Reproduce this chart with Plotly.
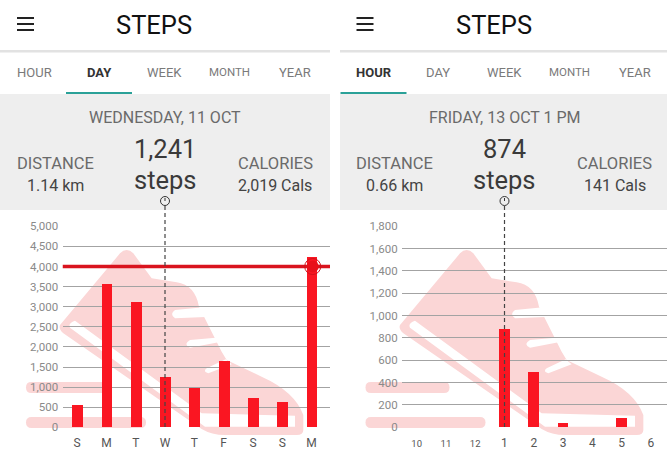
import plotly.graph_objects as go

# ---- data ----
day_labels = ["S", "M", "T", "W", "T", "F", "S", "S", "M"]
day_steps = [540, 3560, 3110, 1241, 970, 1640, 710, 630, 4240]
day_ticks = [0, 500, 1000, 1500, 2000, 2500, 3000, 3500, 4000, 4500, 5000]
day_goal = 4000
day_selected = 3

hour_labels = ['<span style="font-size:9.5px">10</span>', '<span style="font-size:9.5px">11</span>',
               '<span style="font-size:9.5px">12</span>', "1", "2", "3", "4", "5", "6"]
hour_steps = [0, 0, 0, 874, 490, 35, 0, 85, 0]
hour_ticks = [0, 200, 400, 600, 800, 1000, 1200, 1400, 1600, 1800]
hour_selected = 3

W, H = 667, 450
OFF = 339.5
FONT = "Roboto"
RED = "#fa1622"
PINK = "#fbd6d6"
GRID = "#a3a3a3"


def fx(x):
    return x / W


def fy(y):
    return 1 - y / H


def path(cmds):
    """cmds: list of (letter, x, y, ...) in pixels."""
    out = []
    for c in cmds:
        if c[0] == "Z":
            out.append("Z")
            continue
        nums = c[1:]
        pts = []
        for i in range(0, len(nums), 2):
            pts.append(f"{fx(nums[i]):.5f},{fy(nums[i + 1]):.5f}")
        out.append(c[0] + " ".join(pts))
    return " ".join(out)


def shapeline(x0, y0, x1, y1, color, width, layer="below", dash=None):
    return dict(type="line", xref="paper", yref="paper", x0=fx(x0), y0=fy(y0), x1=fx(x1), y1=fy(y1),
                line=dict(color=color, width=width, dash=dash or "solid"), layer=layer)


def rect(x0, y0, x1, y1, color):
    return dict(type="rect", xref="paper", yref="paper", x0=fx(x0), y0=fy(y0), x1=fx(x1), y1=fy(y1),
                fillcolor=color, line=dict(width=0), layer="below")


def zoom_path(cmds, dx):
    out = []
    for c in cmds:
        if c[0] == "Z":
            out.append(c)
            continue
        nums = list(c[1:])
        conv = []
        for i in range(0, len(nums), 2):
            conv += [nums[i] / 3 + 335 + dx, 205 + nums[i + 1] / 3]
        out.append((c[0], *conv))
    return path(out)


SILHOUETTE = [("M", 195, 360), ("L", 375, 145), ("Q", 395, 125, 415, 145), ("L", 470, 220), ("L", 545, 232),
              ("Q", 600, 240, 612, 305), ("L", 680, 440), ("L", 695, 465), ("L", 800, 515),
              ("Q", 900, 560, 925, 630), ("L", 925, 675), ("Q", 925, 692, 900, 690), ("L", 690, 690),
              ("Q", 650, 690, 620, 672), ("L", 205, 385), ("Q", 190, 372, 195, 360), ("Z",)]
STRIPE = [("M", 225, 368), ("Q", 218, 355, 240, 347), ("L", 620, 625), ("L", 900, 632), ("L", 900, 665),
          ("L", 630, 665), ("Z",)]
NOTCHES = [
    [("M", 650, 335), ("L", 540, 340), ("Q", 522, 328, 540, 315), ("L", 640, 305), ("Z",)],
    [("M", 662, 398), ("L", 585, 405), ("Q", 563, 418, 585, 428), ("L", 690, 408), ("Z",)],
    [("M", 692, 463), ("L", 635, 490), ("Q", 622, 500, 640, 505), ("L", 710, 478), ("Z",)],
]


def pill(x0, y0, x1, y1, color):
    r = (y1 - y0) / 2
    return dict(type="path", xref="paper", yref="paper", layer="below", fillcolor=color, line=dict(width=0),
                path=path([("M", x0 + r, y0), ("L", x1 - r, y0), ("Q", x1, y0, x1, y0 + r), ("Q", x1, y1, x1 - r, y1),
                           ("L", x0 + r, y1), ("Q", x0, y1, x0, y0 + r), ("Q", x0, y0, x0 + r, y0), ("Z",)]))


shapes = []
annotations = []


def text(x, y, s, size, color):
    annotations.append(dict(x=fx(x), y=fy(y), xref="paper", yref="paper", text=s, showarrow=False,
                            xanchor="center", yanchor="middle", font=dict(family=FONT, size=size, color=color)))


def panel(dx, x0, x1, active, date, dist, steps, cals, selected_px, bar1_end, bar2_end, shoe_dx):
    # header
    for y in (18, 24, 30):
        shapes.append(shapeline(17 + dx, y, 34 + dx, y, "#222222", 2))
    text(154 + dx, 25, "STEPS", 25.5, "#111111")
    shapes.append(rect(x0, 50, x1, 52.5, "#e2e2e2"))
    # tabs
    tabs = [("HOUR", 34, 13), ("DAY", 99, 13), ("WEEK", 164.5, 13), ("MONTH", 229.5, 11.5), ("YEAR", 295, 13)]
    for name, cx, size in tabs:
        if name == active:
            text(cx + dx, 72, f"<b>{name}</b>", size, "#333333")
            shapes.append(rect(cx + dx - 33, 92, cx + dx + 33, 94, "#2aa198"))
        else:
            text(cx + dx, 72, name, size, "#7a7a7a")
    # grey panel
    shapes.append(rect(x0, 94, x1, 210, "#eeeeee"))
    text(165 + dx, 117, date, 16, "#6a6a6a")
    text(55 + dx, 163, "DISTANCE", 16.5, "#6a6a6a")
    text(55 + dx, 185, dist, 16, "#444444")
    text(165 + dx, 149, steps, 25.5, "#3a3a3a")
    text(165 + dx, 180, "steps", 25.5, "#3a3a3a")
    text(275 + dx, 163, "CALORIES", 16.5, "#6a6a6a")
    text(275 + dx, 185, cals, 16, "#444444")
    # shoe watermark
    shapes.append(dict(type="path", xref="paper", yref="paper", layer="below", fillcolor=PINK, line=dict(width=0),
                       path=zoom_path(SILHOUETTE, shoe_dx)))
    for pts in [STRIPE] + NOTCHES:
        shapes.append(dict(type="path", xref="paper", yref="paper", layer="below", fillcolor="#ffffff",
                           line=dict(width=0), path=zoom_path(pts, shoe_dx)))
    shapes.append(pill(26 + dx, 382, bar1_end + dx, 393, PINK))
    shapes.append(pill(26 + dx, 417, bar2_end + dx, 428, PINK))
    # clock
    shapes.append(dict(type="circle", xref="paper", yref="paper", x0=fx(selected_px - 4.5), x1=fx(selected_px + 4.5),
                       y0=fy(196.5), y1=fy(205.5), line=dict(color="#333333", width=1), layer="above"))
    shapes.append(shapeline(selected_px, 198, selected_px, 201, "#333333", 1, "above"))
    shapes.append(shapeline(selected_px, 206, selected_px, 427, "#444444", 1.2, "above", "4px,3px"))


panel(0, 0, 330, "DAY", "WEDNESDAY, 11 OCT", "1.14 km", "1,241", "2,019 Cals", 165, 110, 146, -340)
panel(OFF, 340, 667, "HOUR", "FRIDAY, 13 OCT 1 PM", "0.66 km", "874", "141 Cals", 504.5, 110, 146, 0)

# goal line
fig = go.Figure()
fig.add_trace(go.Bar(x=list(range(len(day_steps))), y=day_steps, width=0.37, marker=dict(color=RED, line=dict(width=0)),
                     xaxis="x", yaxis="y", showlegend=False))
fig.add_trace(go.Scatter(x=[-0.5, 8.63], y=[day_goal, day_goal], mode="lines", line=dict(color="#d9141e", width=3.5),
                         xaxis="x", yaxis="y", showlegend=False, cliponaxis=False))
fig.add_trace(go.Scatter(x=[8.04], y=[day_goal], mode="markers", marker=dict(color="#e8101a", size=12),
                         xaxis="x", yaxis="y", showlegend=False, cliponaxis=False))
fig.add_trace(go.Scatter(x=[8.04], y=[day_goal], mode="markers",
                         marker=dict(color="rgba(0,0,0,0)", size=16, line=dict(color="#d01018", width=1)),
                         xaxis="x", yaxis="y", showlegend=False, cliponaxis=False))
fig.add_trace(go.Bar(x=list(range(len(hour_steps))), y=hour_steps, width=0.37, marker=dict(color=RED, line=dict(width=0)),
                     xaxis="x2", yaxis="y2", showlegend=False))

yax = dict(showline=False, zeroline=False, showgrid=True, gridcolor=GRID, gridwidth=1, automargin=False,
           ticks="outside", ticklen=1, tickcolor="rgba(0,0,0,0)", tickformat=",d",
           tickfont=dict(family=FONT, size=11.5, color="#8a8a8a"))
xax = dict(showline=False, zeroline=False, showgrid=False, ticks="outside", ticklen=4, automargin=False,
           tickcolor="rgba(0,0,0,0)", tickfont=dict(family=FONT, size=12, color="#555555"), tickangle=0)

fig.update_layout(
    width=W, height=H, autosize=False, margin=dict(l=0, r=0, t=0, b=0, pad=0, autoexpand=False),
    paper_bgcolor="white", plot_bgcolor="rgba(0,0,0,0)", bargap=0, barmode="overlay",
    xaxis=dict(domain=[fx(62.5), fx(330)], range=[-0.5, 8.63], tickvals=list(range(9)), ticktext=day_labels,
               anchor="y", **xax),
    yaxis=dict(domain=[fy(427.3), fy(226.3)], range=[0, 5000], tickvals=day_ticks, anchor="x", **yax),
    xaxis2=dict(domain=[fx(402), fx(667)], range=[-0.5, 8.55], tickvals=list(range(9)), ticktext=hour_labels,
                anchor="y2", **xax),
    yaxis2=dict(domain=[fy(427.3), fy(226.3)], range=[0, 1800], tickvals=hour_ticks, anchor="x2", **yax),
    shapes=shapes, annotations=annotations,
    hovermode=False,
)

fig.write_html("out.html", config={"displayModeBar": False},
               post_script="document.body.style.margin='0';document.body.style.background='white';")
